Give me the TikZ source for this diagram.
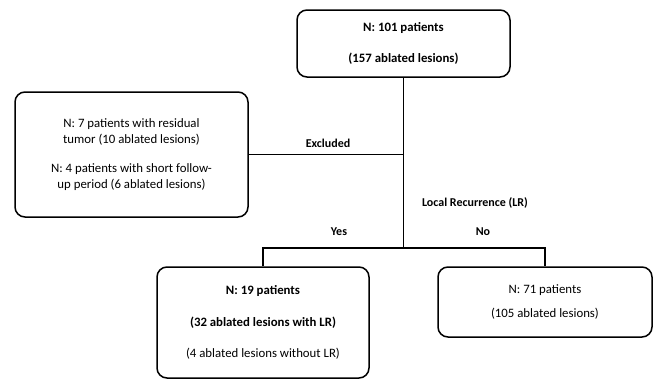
\documentclass[tikz,border=0pt]{standalone}
\usepackage{fontspec}
\setmainfont{Carlito}

\begin{document}
\begin{tikzpicture}[x = 1pt, y = -1pt,
    box/.style = {draw, line width = 1.5pt, rounded corners = 10pt, align = center,
      inner sep = 0pt, font = \fontsize{12.8}{14.5}\selectfont},
    lbl/.style = {font = \fontsize{12}{14}\selectfont\bfseries}]
    \useasboundingbox (0,0) rectangle (656,380);
    \node[box, minimum width = 213pt, minimum height = 67pt] (all) at (403.5,43.5)
      {\textbf{N: 101 patients}\\[17pt]\textbf{(157 ablated lesions)}};
    \node[box, minimum width = 233pt, minimum height = 125pt] (excl) at (131.5,154.5)
      {N: 7 patients with residual\\[1pt]tumor (10 ablated lesions)\\[15pt]N: 4 patients with short follow-\\[1pt]up period (6 ablated lesions)};
    \node[box, minimum width = 212pt, minimum height = 111pt] (yes) at (263,322.5)
      {\textbf{N: 19 patients}\\[17pt]\textbf{(32 ablated lesions with LR)}\\[17pt](4 ablated lesions without LR)};
    \node[box, minimum width = 214pt, minimum height = 70pt] (no) at (545,302)
      {N: 71 patients\\[10pt](105 ablated lesions)};
    \coordinate (split) at (403.5,248);
    \draw[line width = 1.4pt] (all) -- (split);
    \draw[line width = 1.4pt] (excl.east) -- (excl.east -| all.south);
    \draw[line width = 1.4pt] (yes.north) |- (split) -| (no.north);
    % Labels
    \node[lbl] (exlbl) at (328,143) {Excluded};
    \node[lbl] (lrlbl) at (475,203) {Local Recurrence (LR)};
    \node[lbl] (yeslbl) at (339,232) {Yes};
    \node[lbl] (nolbl) at (483,232) {No};
  \end{tikzpicture}
\end{document}
